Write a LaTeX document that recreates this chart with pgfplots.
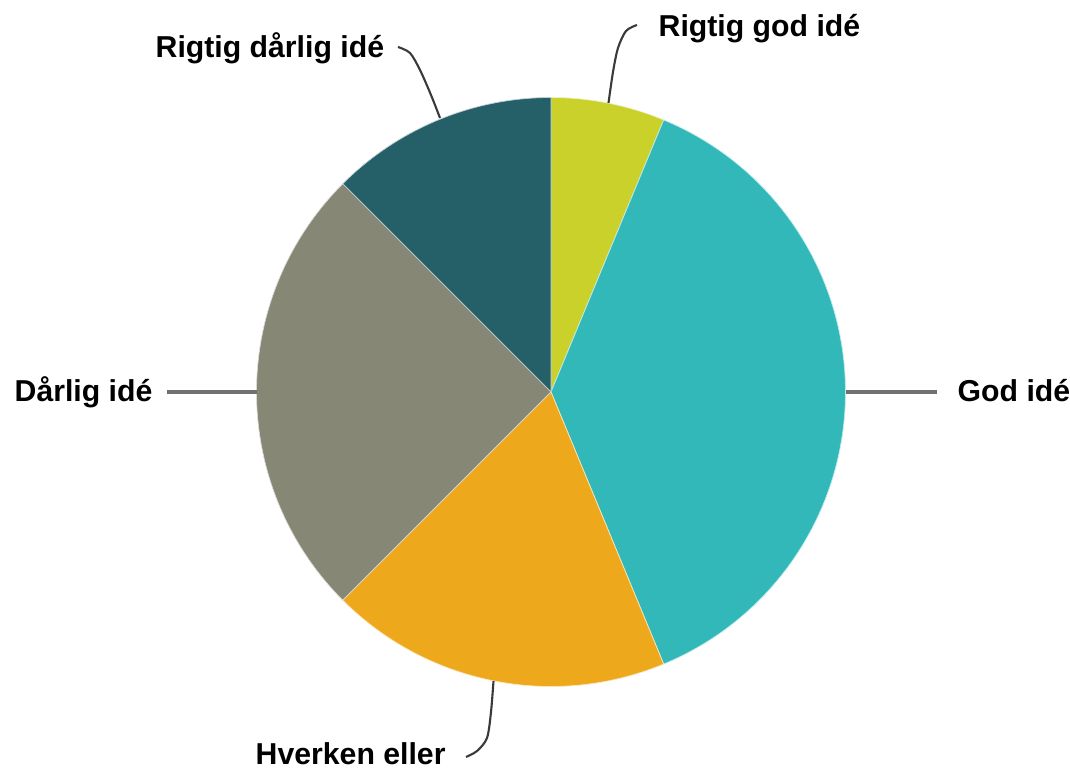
\documentclass[border=0pt]{standalone}
\usepackage{pgfplots}
\pgfplotsset{compat=1.18}
\usepackage{fontspec}
\setmainfont{Liberation Sans}
\definecolor{cA}{HTML}{C9D12A}
\definecolor{cB}{HTML}{32B8B8}
\definecolor{cC}{HTML}{EEA81C}
\definecolor{cD}{HTML}{878775}
\definecolor{cE}{HTML}{255F68}
\definecolor{lead}{HTML}{3A3A3A}
\definecolor{leadS}{HTML}{707070}
% shares in percent, clockwise from 12 o'clock
\def\pA{6.25}  % Rigtig god idé
\def\pB{37.5}  % God idé
\def\pC{18.75} % Hverken eller
\def\pD{25}    % Dårlig idé
\def\pE{12.5}  % Rigtig dårlig idé
\pgfmathsetmacro\aA{0}
\pgfmathsetmacro\aB{\aA+3.6*\pA}
\pgfmathsetmacro\aC{\aB+3.6*\pB}
\pgfmathsetmacro\aD{\aC+3.6*\pC}
\pgfmathsetmacro\aE{\aD+3.6*\pD}
\pgfmathsetmacro\aF{\aE+3.6*\pE}
\tikzset{lbl/.style={anchor=base west, inner sep=0pt, font=\fontsize{8.6}{10}\selectfont\bfseries}}
\begin{document}
\begin{tikzpicture}
\begin{axis}[
  width=10.7cm, height=7.68cm, scale only axis,
  xmin=0, xmax=1070, ymin=0, ymax=768, y dir=reverse,
  hide axis, clip=false,
]
\addplot[fill=cA, draw=white!70!cA, line width=0.2pt, domain=\aA:\aB, samples=40, variable=\t] ({551+294.5*sin(\t)}, {392-294.5*cos(\t)}) -- (axis cs:551,392) -- cycle;
\addplot[fill=cB, draw=white!70!cB, line width=0.2pt, domain=\aB:\aC, samples=80, variable=\t] ({551+294.5*sin(\t)}, {392-294.5*cos(\t)}) -- (axis cs:551,392) -- cycle;
\addplot[fill=cC, draw=white!70!cC, line width=0.2pt, domain=\aC:\aD, samples=60, variable=\t] ({551+294.5*sin(\t)}, {392-294.5*cos(\t)}) -- (axis cs:551,392) -- cycle;
\addplot[fill=cD, draw=white!70!cD, line width=0.2pt, domain=\aD:\aE, samples=60, variable=\t] ({551+294.5*sin(\t)}, {392-294.5*cos(\t)}) -- (axis cs:551,392) -- cycle;
\addplot[fill=cE, draw=white!70!cE, line width=0.2pt, domain=\aE:\aF, samples=40, variable=\t] ({551+294.5*sin(\t)}, {392-294.5*cos(\t)}) -- (axis cs:551,392) -- cycle;
% leader lines
\addplot[lead, line width=0.6pt, smooth] coordinates {(608.5,103) (613,72) (618,48) (626,31) (637,25)};
\addplot[leadS, line width=1pt] coordinates {(846,392) (937,392)};
\addplot[lead, line width=0.6pt, smooth] coordinates {(493.5,681) (491,712) (487,738) (477,751) (466,757)};
\addplot[leadS, line width=1pt] coordinates {(257,392) (167,392)};
\addplot[lead, line width=0.6pt, smooth] coordinates {(440,118) (431,95) (420,70) (410,53) (398,47)};
% labels
\node[lbl] at (axis cs:658,37) {Rigtig god idé};
\node[lbl] at (axis cs:957,402) {God idé};
\node[lbl] at (axis cs:255,765) {Hverken eller};
\node[lbl] at (axis cs:14,402) {Dårlig idé};
\node[lbl] at (axis cs:155,58) {Rigtig dårlig idé};
\end{axis}
\pgfresetboundingbox
\path (0,0) rectangle (10.7cm,7.68cm);
\end{tikzpicture}
\end{document}
